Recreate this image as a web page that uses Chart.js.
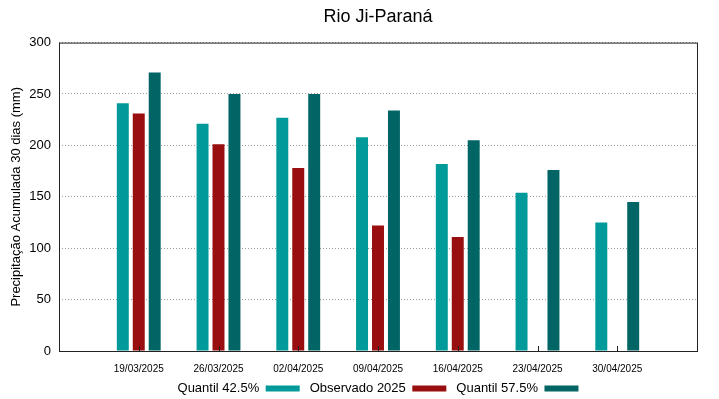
<!DOCTYPE html>
<html>
<head>
<meta charset="utf-8">
<script src="https://cdn.jsdelivr.net/npm/chart.js@4.4.1/dist/chart.umd.min.js"></script>
<style>
  body { margin: 0; background: #fff; }
  canvas { display: block; }
</style>
</head>
<body>
<canvas id="chart" width="719" height="399"></canvas>
<script>
// dates (blank slots at both ends keep the gnuplot-style margins)
const labels = ["", "19/03/2025", "26/03/2025", "02/04/2025", "09/04/2025", "16/04/2025", "23/04/2025", "30/04/2025", ""];

// values (mm)
const quantil425 = [null, 241, 221, 227, 208, 182, 154, 125, null];
const observado = [null, 231, 201, 178, 122, 111, null, null, null];
const quantil575 = [null, 271, 250, 250, 234, 205, 176, 145, null];

const yTicks = [0, 50, 100, 150, 200, 250, 300];

// box around the plot + small inward ticks on the x axis
const frame = {
  id: "frame",
  afterDraw(chart) {
    const ctx = chart.ctx;
    const a = chart.chartArea;
    const x = chart.scales.x;
    ctx.save();
    ctx.strokeStyle = "#222";
    ctx.lineWidth = 1;
    ctx.strokeRect(a.left + 0.5, a.top + 0.5, a.right - a.left, a.bottom - a.top);
    ctx.beginPath();
    for (let i = 1; i < labels.length - 1; i++) {
      const px = Math.round(x.getPixelForValue(i)) + 0.5;
      ctx.moveTo(px, a.bottom);
      ctx.lineTo(px, a.bottom - 5);
    }
    ctx.stroke();
    ctx.restore();
  }
};

new Chart(document.getElementById("chart"), {
  type: "bar",
  data: {
    labels: labels,
    datasets: [
      { label: "Quantil 42.5%", data: quantil425, backgroundColor: "#009a9a" },
      { label: "Observado 2025", data: observado, backgroundColor: "#990e0e" },
      { label: "Quantil 57.5%", data: quantil575, backgroundColor: "#006564" }
    ]
  },
  options: {
    responsive: false,
    animation: false,
    layout: { padding: { left: 9, right: 22, top: 0, bottom: -6 } },
    datasets: {
      bar: { categoryPercentage: 0.6, barPercentage: 0.75 }
    },
    plugins: {
      title: {
        display: true,
        text: "Rio Ji-Paraná",
        fullSize: false,
        color: "#000",
        font: { family: "Liberation Sans", size: 18, weight: "normal" },
        padding: { top: 6, bottom: 15 }
      },
      legend: {
        position: "bottom",
        fullSize: false,
        rtl: true,
        reverse: true,
        labels: {
          color: "#000",
          font: { family: "Liberation Sans", size: 13 },
          boxWidth: 34,
          boxHeight: 6,
          padding: 10
        }
      },
      tooltip: { enabled: false }
    },
    scales: {
      x: {
        offset: false,
        afterFit(scale) { scale.height = 21; },
        grid: { display: false },
        border: { display: false },
        ticks: {
          color: "#000",
          font: { family: "Liberation Sans", size: 10 },
          maxRotation: 0,
          autoSkip: false,
          padding: 4
        }
      },
      y: {
        min: 0,
        max: 300,
        afterBuildTicks(scale) {
          scale.ticks = yTicks.map(v => ({ value: v }));
        },
        afterFit(scale) { scale.width = 50; },
        grid: {
          color: "#9a9a9a",
          drawTicks: false
        },
        border: { display: false, dash: [1, 2] },
        ticks: {
          color: "#000",
          font: { family: "Liberation Sans", size: 13 },
          padding: 8
        },
        title: {
          display: true,
          text: "Precipitação Acumulada 30 dias (mm)",
          color: "#000",
          font: { family: "Liberation Sans", size: 13 },
          padding: 0
        }
      }
    }
  },
  plugins: [frame]
});
</script>
</body>
</html>
